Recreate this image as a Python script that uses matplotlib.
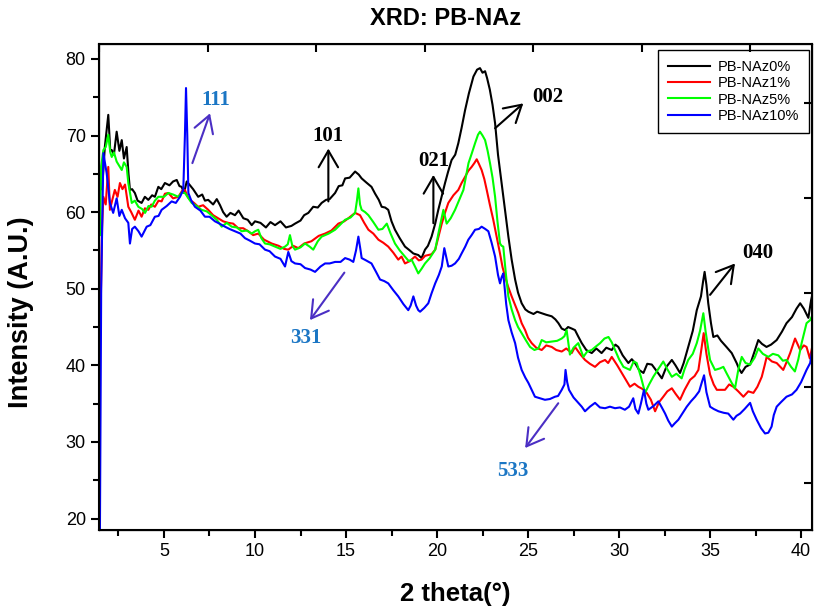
import matplotlib
matplotlib.use("Agg")
import matplotlib.pyplot as plt

plt.rcParams['font.family'] = ['Liberation Sans Narrow', 'Liberation Sans', 'DejaVu Sans']

# PB-NAz0% (preto)
x_0 = [1.6, 1.75, 1.94, 2.05, 2.13, 2.25, 2.4, 2.55, 2.68, 2.8, 2.95, 3.05, 3.13, 3.25, 3.4, 3.55,
       3.77, 3.95, 4.14, 4.35, 4.5, 4.69, 4.85, 5.05, 5.3, 5.5, 5.7, 5.85, 5.97, 6.1, 6.25, 6.43,
       6.6, 6.88, 7.1, 7.25, 7.43, 7.7, 7.9, 8.08, 8.25, 8.44, 8.65, 8.9, 9.1, 9.36, 9.6, 9.82,
       10.0, 10.3, 10.6, 10.85, 11.1, 11.4, 11.7, 12.0, 12.2, 12.5, 12.7, 12.93, 13.2, 13.45,
       13.66, 13.9, 14.1, 14.4, 14.6, 14.8, 14.95, 15.2, 15.5, 15.7, 15.86, 16.1, 16.4, 16.6,
       16.8, 16.96, 17.15, 17.32, 17.5, 17.69, 17.95, 18.24, 18.45, 18.7, 18.97, 19.15, 19.34,
       19.5, 19.7, 19.9, 20.07, 20.25, 20.44, 20.6, 20.8, 21.0, 21.17, 21.35, 21.54, 21.75, 22.0,
       22.2, 22.36, 22.5, 22.64, 22.75, 22.9, 23.05, 23.19, 23.35, 23.55, 23.75, 23.92, 24.1,
       24.29, 24.45, 24.65, 24.85, 25.02, 25.3, 25.5, 25.75, 26.0, 26.3, 26.5, 26.67, 26.85,
       27.03, 27.2, 27.4, 27.58, 27.75, 27.95, 28.2, 28.5, 28.75, 29.04, 29.3, 29.6, 29.8, 29.96,
       30.2, 30.51, 30.7, 30.88, 31.1, 31.34, 31.55, 31.8, 32.05, 32.35, 32.6, 32.9, 33.1, 33.35,
       33.55, 33.8, 34.05, 34.27, 34.5, 34.62, 34.7, 34.8, 34.9, 35.05, 35.18, 35.4, 35.6, 35.9,
       36.19, 36.46, 36.6, 36.73, 36.95, 37.2, 37.4, 37.65, 37.85, 38.1, 38.35, 38.66, 38.95,
       39.2, 39.5, 39.75, 39.95, 40.15, 40.4, 40.55, 40.67]
y_0 = [63.0, 68.5, 72.7, 68.0, 68.1, 67.5, 70.5, 68.0, 69.4, 67.0, 68.5, 65.0, 62.9, 63.0, 62.5, 61.5,
       61.2, 62.0, 61.6, 62.2, 62.0, 63.3, 63.0, 63.8, 63.5, 64.0, 64.2, 63.4, 63.3, 62.5, 64.0, 63.5,
       63.0, 62.0, 62.3, 61.5, 61.6, 61.0, 61.7, 60.9, 60.0, 59.4, 59.9, 59.6, 60.2, 59.2, 59.0, 58.3,
       58.8, 58.6, 58.0, 58.7, 58.3, 58.8, 58.0, 58.2, 58.5, 58.9, 59.6, 59.9, 60.7, 60.6,
       61.2, 61.6, 61.7, 62.5, 63.4, 63.5, 64.4, 64.5, 65.3, 64.9, 64.4, 63.9, 63.3, 62.4,
       61.6, 60.7, 60.6, 60.3, 58.8, 57.7, 56.6, 55.5, 55.1, 54.6, 54.4, 54.0, 55.1,
       55.6, 56.8, 58.5, 60.3, 62.0, 63.8, 65.2, 66.8, 67.5, 69.0, 71.0, 73.3, 75.5, 77.7,
       78.6, 78.8, 78.2, 78.4, 77.5, 76.0, 74.0, 71.6, 67.5, 63.8, 60.0, 56.8, 53.8,
       51.2, 49.5, 48.1, 47.3, 47.0, 46.7, 47.0, 46.8, 46.6, 46.4, 46.0, 45.5, 44.8,
       44.6, 45.0, 44.8, 44.6, 43.8, 42.9, 42.0, 41.6, 42.2, 41.6, 42.3, 42.0, 42.7, 42.4,
       41.3, 40.3, 40.8, 40.3, 39.4, 39.0, 40.2, 40.1, 39.3, 38.3, 39.8, 40.7, 40.0, 39.0,
       40.3, 42.4, 44.5, 47.2, 49.0, 51.0, 52.2, 50.5, 48.1, 45.5, 43.7, 43.9, 43.2, 42.4,
       41.6, 40.3, 39.5, 39.0, 39.8, 40.1, 41.5, 43.3, 42.8, 42.4, 42.7, 43.3, 44.4,
       45.5, 46.3, 47.4, 48.1, 47.4, 46.2, 48.5, 49.8]

# PB-NAz1% (vermelho)
x_1 = [1.52, 1.6, 1.67, 1.8, 1.94, 2.03, 2.15, 2.3, 2.45, 2.58, 2.72, 2.86, 3.04, 3.2, 3.4, 3.6,
       3.77, 3.95, 4.14, 4.3, 4.5, 4.7, 4.87, 5.05, 5.24, 5.5, 5.79, 6.0, 6.15, 6.3, 6.43, 6.65,
       6.88, 7.15, 7.43, 7.7, 7.98, 8.25, 8.53, 8.8, 9.08, 9.35, 9.63, 9.9, 10.18, 10.5, 10.92,
       11.3, 11.6, 11.83, 12.1, 12.38, 12.7, 13.1, 13.5, 13.85, 14.2, 14.58, 14.9, 15.13, 15.5,
       15.77, 16.0, 16.23, 16.5, 16.78, 17.05, 17.32, 17.6, 17.87, 18.05, 18.24, 18.5, 18.79,
       19.0, 19.15, 19.35, 19.52, 19.7, 19.9, 20.1, 20.26, 20.45, 20.62, 20.9, 21.17, 21.35,
       21.54, 21.72, 21.9, 22.05, 22.18, 22.3, 22.45, 22.6, 22.73, 22.9, 23.09, 23.3, 23.46,
       23.6, 23.74, 23.9, 24.1, 24.3, 24.47, 24.65, 24.84, 25.0, 25.2, 25.45, 25.75, 26.0,
       26.3, 26.55, 26.85, 27.1, 27.4, 27.58, 27.85, 28.13, 28.4, 28.68, 28.95, 29.23, 29.4,
       29.6, 29.9, 30.15, 30.4, 30.6, 30.85, 31.06, 31.3, 31.52, 31.75, 31.98, 32.2, 32.43,
       32.65, 32.9, 33.1, 33.35, 33.6, 33.9, 34.15, 34.36, 34.55, 34.65, 34.8, 35.0, 35.2,
       35.37, 35.55, 35.82, 36.05, 36.28, 36.55, 36.83, 37.1, 37.38, 37.6, 37.84, 38.0, 38.11,
       38.4, 38.66, 39.02, 39.2, 39.4, 39.67, 39.8, 39.95, 40.15, 40.3, 40.48, 40.67]
y_1 = [47.0, 58.0, 62.0, 61.0, 65.9, 60.3, 61.5, 62.9, 62.0, 63.8, 63.0, 63.6, 60.7, 60.0, 59.0, 60.2,
       59.4, 60.5, 60.3, 61.0, 60.7, 61.5, 61.4, 62.4, 62.5, 61.8, 62.0, 62.8, 62.9, 62.0, 61.6, 61.2,
       60.7, 60.9, 60.3, 59.6, 59.2, 58.8, 58.6, 58.5, 57.9, 57.9, 57.5, 57.0, 57.2, 56.4, 55.9,
       55.6, 55.2, 55.1, 55.6, 55.3, 55.9, 56.2, 56.9, 57.2, 57.6, 58.5, 58.8, 59.2, 59.9,
       59.6, 58.6, 57.7, 57.2, 56.4, 56.0, 55.5, 54.7, 53.8, 54.2, 53.3, 53.6, 54.2,
       53.7, 53.8, 54.3, 54.4, 54.5, 55.1, 57.0, 58.5, 60.0, 61.2, 62.2, 62.9, 63.8,
       64.6, 65.4, 65.9, 66.4, 66.9, 66.3, 65.5, 64.3, 62.9, 61.0, 59.0, 56.5, 54.6,
       52.8, 51.6, 50.3, 49.0, 47.8, 46.8, 45.5, 44.6, 43.6, 42.9, 42.3, 42.0, 42.6,
       42.4, 42.0, 41.8, 42.2, 41.6, 42.4, 41.5, 40.7, 40.2, 39.8, 40.4, 40.7, 40.3,
       41.1, 40.0, 39.0, 38.0, 37.2, 37.6, 37.2, 36.9, 36.4, 35.5, 34.0, 35.2, 35.9,
       36.6, 37.0, 36.3, 35.5, 36.8, 38.1, 38.6, 39.4, 42.5, 44.2, 41.5, 38.8, 37.5,
       36.8, 36.8, 36.8, 37.5, 37.2, 36.6, 35.9, 36.6, 36.4, 37.2, 38.5, 40.0, 41.1,
       40.5, 40.3, 39.4, 40.4, 41.6, 43.5, 42.8, 42.0, 42.6, 42.4, 40.9, 43.1]

# PB-NAz5% (verde)
x_5 = [1.48, 1.55, 1.67, 1.8, 1.94, 2.05, 2.13, 2.25, 2.4, 2.55, 2.68, 2.8, 2.95, 3.04, 3.23, 3.4,
       3.59, 3.8, 3.96, 4.15, 4.32, 4.5, 4.69, 5.0, 5.24, 5.5, 5.79, 6.0, 6.15, 6.35, 6.52, 6.8,
       7.06, 7.35, 7.61, 7.9, 8.17, 8.45, 8.72, 9.0, 9.27, 9.55, 9.82, 10.0, 10.18, 10.35, 10.55,
       10.8, 11.1, 11.4, 11.65, 11.8, 11.92, 12.05, 12.2, 12.5, 12.75, 13.0, 13.2, 13.45, 13.66,
       14.05, 14.4, 14.7, 14.95, 15.25, 15.5, 15.6, 15.68, 15.77, 15.86, 16.05, 16.23, 16.5,
       16.78, 17.0, 17.24, 17.45, 17.69, 17.95, 18.24, 18.45, 18.6, 18.79, 18.97, 19.15, 19.34,
       19.6, 19.9, 20.1, 20.35, 20.53, 20.75, 20.99, 21.2, 21.45, 21.6, 21.73, 21.9, 22.09,
       22.25, 22.36, 22.5, 22.64, 22.78, 22.91, 23.05, 23.19, 23.32, 23.46, 23.55, 23.64, 23.78,
       23.92, 24.1, 24.29, 24.45, 24.65, 24.9, 25.11, 25.35, 25.57, 25.75, 26.0, 26.3, 26.6,
       26.85, 27.0, 27.12, 27.3, 27.5, 27.76, 28.04, 28.25, 28.5, 28.75, 28.96, 29.2, 29.42,
       29.6, 29.78, 30.0, 30.24, 30.6, 30.8, 30.97, 31.2, 31.43, 31.65, 31.88, 32.15, 32.43,
       32.65, 32.9, 33.15, 33.44, 33.6, 33.8, 34.05, 34.27, 34.45, 34.63, 34.75, 34.91, 35.0,
       35.27, 35.55, 35.73, 35.9, 36.1, 36.19, 36.37, 36.55, 36.74, 36.95, 37.2, 37.45, 37.65,
       37.9, 38.2, 38.45, 38.75, 39.0, 39.2, 39.45, 39.66, 39.85, 40.03, 40.3, 40.5, 40.67]
y_5 = [57.0, 66.0, 68.1, 68.5, 70.1, 67.8, 67.2, 67.8, 66.6, 66.0, 65.5, 66.5, 65.9, 63.8, 61.2, 61.5,
       60.7, 60.4, 59.9, 60.8, 60.7, 61.5, 62.0, 62.0, 62.5, 62.3, 62.0, 62.6, 62.5, 61.8, 61.2, 60.8,
       60.3, 60.1, 59.6, 59.0, 58.1, 58.6, 58.1, 58.0, 57.5, 57.6, 57.2, 57.5, 57.7, 56.6, 55.9,
       55.8, 55.5, 55.2, 55.5, 55.8, 57.0, 55.6, 55.1, 55.4, 55.9, 55.5, 55.1, 56.2, 56.8,
       57.2, 57.7, 58.4, 59.0, 59.3, 59.9, 61.5, 63.1, 61.0, 60.3, 60.0, 59.6, 58.7,
       57.7, 57.8, 58.5, 57.2, 55.9, 55.0, 54.2, 53.6, 53.8, 52.9, 52.0, 52.6, 53.3,
       54.0, 55.1, 57.5, 60.3, 58.5, 59.2, 60.3, 61.5, 62.9, 64.8, 66.4, 67.6, 69.0,
       70.1, 70.5, 70.0, 69.4, 68.0, 66.4, 64.5, 62.0, 58.8, 55.9, 55.6, 55.5, 52.0,
       49.0, 47.3, 45.9, 45.0, 44.2, 43.2, 42.4, 42.0, 42.2, 43.3, 43.0, 43.1, 43.2,
       43.5, 43.8, 44.6, 41.4, 42.3, 42.9, 41.1, 41.8, 42.0, 42.5, 42.9, 43.5, 43.7,
       43.0, 42.0, 40.8, 39.8, 39.4, 40.5, 40.3, 38.5, 36.4, 37.5, 38.5, 39.5, 40.5,
       39.5, 38.5, 38.9, 38.3, 39.5, 40.7, 41.5, 42.9, 44.5, 46.8, 44.5, 42.0, 40.7,
       39.4, 39.6, 39.8, 39.0, 38.1, 37.7, 37.0, 39.4, 41.1, 40.3, 40.1, 41.0, 42.2,
       41.5, 41.1, 41.5, 41.3, 40.6, 40.7, 39.8, 39.2, 40.8, 42.9, 45.5, 45.9, 46.8]

# PB-NAz10% (azul)
x_10 = [1.48, 1.55, 1.67, 1.85, 1.95, 2.03, 2.21, 2.4, 2.55, 2.68, 2.86, 3.04, 3.13, 3.25, 3.4, 3.6,
        3.77, 4.05, 4.25, 4.5, 4.7, 4.87, 5.15, 5.42, 5.65, 5.88, 6.06, 6.15, 6.21, 6.28, 6.34, 6.5,
        6.7, 7.0, 7.25, 7.5, 7.8, 8.05, 8.35, 8.6, 8.9, 9.2, 9.45, 9.7, 10.0, 10.25, 10.55, 10.8,
        11.1, 11.4, 11.65, 11.83, 12.0, 12.2, 12.5, 12.75, 13.05, 13.3, 13.6, 13.85, 14.1, 14.4,
        14.7, 14.95, 15.2, 15.4, 15.55, 15.68, 15.8, 15.86, 16.1, 16.4, 16.65, 16.87, 17.1, 17.32,
        17.6, 17.87, 18.15, 18.42, 18.55, 18.7, 18.85, 18.97, 19.07, 19.3, 19.52, 19.7, 19.9,
        20.1, 20.26, 20.4, 20.62, 20.8, 20.99, 21.2, 21.35, 21.55, 21.72, 21.9, 22.09, 22.3,
        22.45, 22.65, 22.82, 23.0, 23.19, 23.35, 23.46, 23.55, 23.64, 23.8, 23.92, 24.1, 24.29,
        24.45, 24.65, 24.85, 25.02, 25.2, 25.38, 25.65, 25.93, 26.2, 26.48, 26.65, 26.85, 27.0,
        27.06, 27.15, 27.25, 27.5, 27.76, 27.95, 28.13, 28.4, 28.68, 28.95, 29.23, 29.5, 29.78,
        30.05, 30.32, 30.55, 30.78, 30.9, 31.06, 31.2, 31.37, 31.5, 31.61, 31.9, 32.16, 32.35,
        32.53, 32.7, 32.9, 33.05, 33.26, 33.5, 33.72, 33.95, 34.18, 34.4, 34.55, 34.67, 34.8,
        35.0, 35.2, 35.46, 35.75, 36.0, 36.28, 36.45, 36.65, 36.9, 37.2, 37.35, 37.56, 37.8,
        38.02, 38.2, 38.38, 38.5, 38.66, 38.9, 39.2, 39.5, 39.75, 40.0, 40.3, 40.5, 40.67]
y_10 = [18.0, 50.0, 67.7, 65.1, 63.0, 61.2, 59.9, 61.8, 59.5, 60.3, 59.2, 58.6, 55.9, 57.8, 58.1, 57.5,
        56.8, 58.1, 58.3, 59.4, 59.5, 60.3, 60.8, 61.4, 61.2, 62.0, 62.9, 70.0, 76.2, 70.0, 62.5, 61.5,
        60.7, 60.2, 59.4, 59.4, 58.8, 58.5, 58.1, 57.8, 57.5, 57.2, 56.6, 56.3, 55.9, 55.8, 55.1, 54.9,
        54.2, 53.9, 52.9, 54.8, 53.6, 53.3, 53.2, 52.7, 52.5, 52.2, 52.9, 53.3, 53.3, 53.5,
        53.5, 54.0, 53.8, 53.5, 55.0, 56.8, 55.0, 54.0, 53.7, 53.3, 52.2, 51.2, 51.0, 50.7,
        49.8, 49.0, 48.0, 47.2, 47.8, 49.0, 47.8, 47.2, 47.0, 47.5, 48.1, 49.4, 50.7,
        51.8, 52.9, 55.3, 52.9, 53.0, 53.3, 53.9, 54.6, 55.5, 56.4, 57.0, 57.7, 57.8,
        58.1, 57.8, 57.5, 56.0, 54.2, 51.8, 50.7, 51.5, 52.0, 48.0, 45.9, 44.3, 42.9,
        41.0, 39.4, 38.4, 37.7, 36.8, 35.9, 35.7, 35.5, 35.6, 35.9, 36.0, 36.8, 37.5,
        39.4, 37.8, 36.8, 35.8, 35.1, 34.6, 34.0, 34.6, 35.1, 34.5, 34.4, 34.6, 34.4,
        34.5, 34.2, 34.6, 35.7, 34.3, 33.7, 35.0, 36.8, 35.0, 34.2, 34.7, 35.3, 34.5,
        33.7, 32.8, 32.0, 32.4, 32.9, 33.8, 34.6, 35.3, 35.9, 36.6, 37.8, 38.7, 36.5,
        34.6, 34.3, 34.0, 33.8, 33.7, 32.9, 33.4, 33.7, 34.3, 35.1, 34.0, 32.9, 31.8,
        31.1, 31.2, 32.0, 33.5, 34.6, 35.2, 35.9, 36.2, 36.8, 37.8, 39.4, 40.3, 42.9]

series = [
    ("PB-NAz0%", x_0, y_0, "black"),
    ("PB-NAz1%", x_1, y_1, "red"),
    ("PB-NAz5%", x_5, y_5, "#00ff00"),
    ("PB-NAz10%", x_10, y_10, "blue"),
]

# picos indexados: (rótulo, posição do texto, cauda da seta, ponta da seta, cor do texto, cor da seta)
picos = [
    ("111", (7.86, 74.65), (6.56, 66.4), (7.53, 72.9), "#1b76c4", "#4b2fc4"),
    ("101", (14.01, 69.95), (14.03, 61.4), (14.03, 68.3), "black", "black"),
    ("021", (19.84, 66.68), (19.8, 58.55), (19.8, 64.86), "black", "black"),
    ("002", (26.1, 75.04), (23.19, 70.95), (24.74, 74.2), "black", "black"),
    ("040", (37.64, 54.67), (35.0, 49.2), (36.37, 53.3), "black", "black"),
    ("331", (12.8, 43.58), (14.91, 52.1), (13.02, 45.9), "#1b76c4", "#4b2fc4"),
    ("533", (24.18, 26.21), (26.66, 35.05), (24.84, 29.2), "#1b76c4", "#4b2fc4"),
]

top_ticks = [1.2, 7.2, 13.2, 19.2, 25.2, 31.2, 37.2]
right_ticks = [24.7, 37.2, 49.5, 61.9, 74.3]

fig = plt.figure(figsize=(8.14, 6.09), dpi=100)
ax = fig.add_axes([99 / 814, 79 / 609, 713 / 814, 486 / 609])

for nome, xs, ys, cor in series:
    ax.plot(xs, ys, color=cor, lw=1.5, label=nome)

ax.set_xlim(1.43, 40.6)
ax.set_ylim(18.5, 81.95)
ax.set_xticks([5, 10, 15, 20, 25, 30, 35, 40])
ax.set_xticks([2.5, 7.5, 12.5, 17.5, 22.5, 27.5, 32.5, 37.5], minor=True)
ax.set_yticks([20, 30, 40, 50, 60, 70, 80])
ax.set_yticks([25, 35, 45, 55, 65, 75], minor=True)
ax.tick_params(which='major', direction='out', length=6, width=1.5, labelsize=13)
ax.tick_params(which='minor', direction='out', length=4, width=1.5)
for s in ax.spines.values():
    s.set_linewidth(1.5)

# eixos de cima e da direita só com marcas internas
axt = ax.twiny()
axt.set_xlim(ax.get_xlim())
axt.set_xticks(top_ticks)
axt.tick_params(direction='in', length=6, width=1.5, labeltop=False)
axr = ax.twinx()
axr.set_ylim(ax.get_ylim())
axr.set_yticks(right_ticks)
axr.tick_params(direction='in', length=6, width=1.5, labelright=False)

for rot, pos_txt, cauda, ponta, cor_txt, cor_seta in picos:
    ax.annotate("", xy=ponta, xytext=cauda,
                arrowprops=dict(arrowstyle="->,head_length=0.6,head_width=0.35",
                                color=cor_seta, lw=1.5, mutation_scale=20,
                                shrinkA=0, shrinkB=0))
    ax.text(pos_txt[0], pos_txt[1], rot, color=cor_txt, fontsize=15, fontweight='bold',
            family=['Liberation Serif', 'DejaVu Serif'], ha='center', va='center')

ax.set_xlabel("2 theta(°)", fontsize=18.5, fontweight='bold')
ax.xaxis.set_label_coords((455 - 99) / 713, -(582 - 530) / 486)
ax.set_ylabel("Intensity (A.U.)", fontsize=19.5, fontweight='bold')
ax.yaxis.set_label_coords(-(99 - 34) / 713, (530 - 312) / 486)
fig.text(0.547, 0.97, "XRD: PB-NAz", fontsize=17, fontweight='bold',
         family=['Liberation Sans', 'DejaVu Sans'], ha='center', va='center')

leg = ax.legend(loc='upper right', bbox_to_anchor=(809 / 814, 1 - 50 / 609),
                bbox_transform=fig.transFigure, borderaxespad=0, fancybox=False,
                edgecolor='black', framealpha=1, handlelength=2.9,
                handletextpad=0.5, labelspacing=0.15, borderpad=0.7,
                prop={'family': ['Liberation Sans', 'DejaVu Sans'], 'size': 10.5})
leg.get_frame().set_linewidth(1.0)
leg.set_zorder(10)

fig.savefig("out.png", dpi=100)
